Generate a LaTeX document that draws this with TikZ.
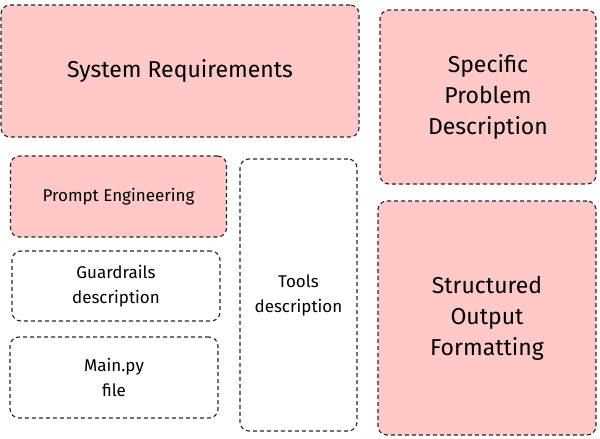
\documentclass[tikz,border=0pt]{standalone}
\usepackage{fontspec}
\setmainfont{Fira Sans}
\begin{document}
\begin{tikzpicture}[x=1pt,y=-1pt,
  box/.style={draw=black!85,line width=1.1pt,dash pattern=on 4pt off 3pt,rounded corners=9pt,align=center,inner sep=0pt},
  pinkbox/.style={box,fill=pinkfill},
  big/.style={font=\fontsize{23}{31}\selectfont},
  small/.style={font=\fontsize{17}{25}\selectfont}]
\definecolor{pinkfill}{HTML}{FFC9C9}
\useasboundingbox (0,0) rectangle (600,439);
\node[pinkbox,big,minimum width=358pt,minimum height=132pt] (sys) at (180,71) {System Requirements};
\node[pinkbox,big,minimum width=216pt,minimum height=174pt] (spec) at (488,97) {Specific\\Problem\\Description};
\node[pinkbox,small,minimum width=216pt,minimum height=81pt] (prompt) at (118.5,196.5) {Prompt Engineering};
\node[box,small,minimum width=208pt,minimum height=70pt] (guard) at (116,286) {Guardrails\\description};
\node[box,small,minimum width=208pt,minimum height=81pt] (main) at (114,377.5) {Main.py\\file};
\node[box,small,minimum width=117pt,minimum height=272pt] (tools) at (298.5,295) {Tools\\description};
\node[pinkbox,big,minimum width=218pt,minimum height=234pt] (struct) at (487,318) {Structured\\Output\\Formatting};
\end{tikzpicture}
\end{document}
